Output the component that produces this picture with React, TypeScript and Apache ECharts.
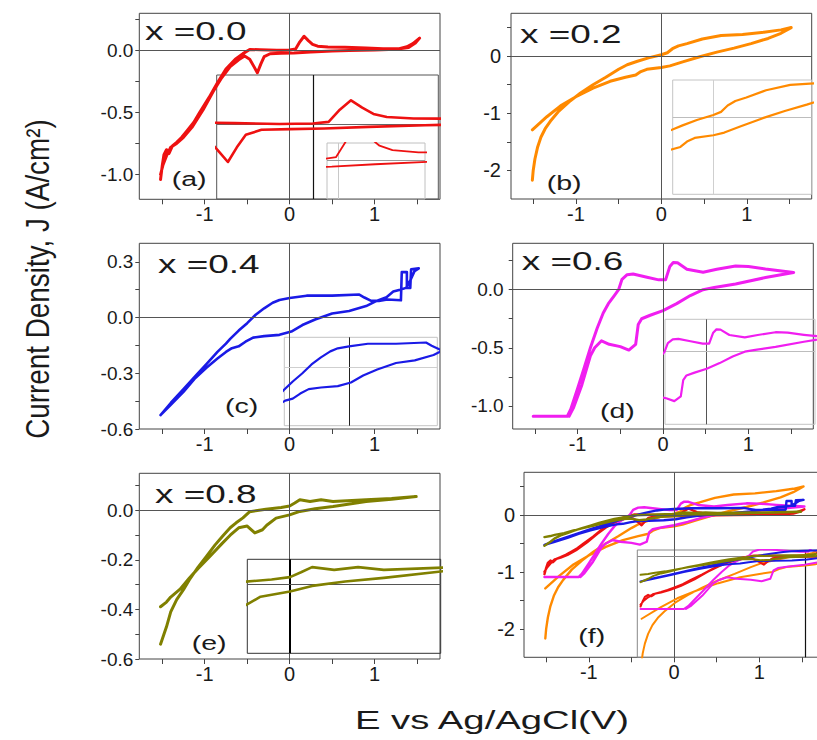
import { useEffect, useRef } from "react";
import * as echarts from "echarts";

type Pt = [number, number];

// Cyclic voltammograms: [E (V vs Ag/AgCl), J (A/cm²)], one full sweep each
const scanX00: Pt[] = [
  [-1.52, -1.04], [-1.5, -0.93], [-1.48, -0.84], [-1.45, -0.8], [-1.42, -0.83], [-1.38, -0.77],
  [-1.33, -0.74], [-1.27, -0.7], [-1.2, -0.64], [-1.13, -0.58], [-1.06, -0.5], [-0.95, -0.38],
  [-0.85, -0.26], [-0.75, -0.15], [-0.64, -0.07], [-0.55, -0.025], [-0.47, 0.008], [-0.35, 0.006],
  [-0.15, 0.002], [0.0, 0.004], [0.07, 0.012], [0.12, 0.07], [0.17, 0.115], [0.22, 0.08],
  [0.27, 0.05], [0.33, 0.035], [0.45, 0.028], [0.65, 0.027], [0.9, 0.02], [1.1, 0.015],
  [1.29, 0.015], [1.38, 0.03], [1.45, 0.055], [1.53, 0.1],
  [1.48, 0.06], [1.4, 0.025], [1.25, 0.01], [1.0, 0.005], [0.7, 0.0], [0.5, -0.004],
  [0.25, -0.012], [0.05, -0.02], [-0.1, -0.023], [-0.23, -0.026], [-0.3, -0.05], [-0.34, -0.11],
  [-0.38, -0.18], [-0.42, -0.13], [-0.47, -0.07], [-0.53, -0.045], [-0.6, -0.075], [-0.7, -0.13],
  [-0.8, -0.22], [-0.9, -0.33], [-1.02, -0.48], [-1.15, -0.62], [-1.25, -0.7], [-1.33, -0.75],
  [-1.4, -0.78], [-1.45, -0.85], [-1.49, -0.92], [-1.52, -1.0],
];

const scanX02: Pt[] = [
  [-1.51, -2.17], [-1.5, -2.0], [-1.48, -1.8], [-1.45, -1.6], [-1.41, -1.42], [-1.36, -1.27],
  [-1.3, -1.14], [-1.2, -0.96], [-1.08, -0.8], [-0.95, -0.65], [-0.8, -0.5], [-0.65, -0.37],
  [-0.5, -0.23], [-0.4, -0.15], [-0.28, -0.09], [-0.15, -0.03], [0.0, 0.025], [0.07, 0.06],
  [0.13, 0.13], [0.2, 0.18], [0.3, 0.22], [0.48, 0.3], [0.7, 0.36], [0.95, 0.38], [1.2, 0.42],
  [1.4, 0.46], [1.52, 0.5],
  [1.4, 0.4], [1.25, 0.31], [1.05, 0.22], [0.85, 0.14], [0.65, 0.07], [0.45, -0.01],
  [0.25, -0.1], [0.1, -0.17], [0.0, -0.2], [-0.17, -0.23], [-0.24, -0.27], [-0.3, -0.33],
  [-0.42, -0.37], [-0.6, -0.44], [-0.8, -0.56], [-1.0, -0.71], [-1.18, -0.87], [-1.34, -1.06],
  [-1.51, -1.29],
];

const scanX04: Pt[] = [
  [-1.52, -0.525], [-1.4, -0.46], [-1.25, -0.385], [-1.1, -0.31], [-0.98, -0.25], [-0.85, -0.185],
  [-0.75, -0.14], [-0.7, -0.115], [-0.6, -0.07], [-0.5, -0.03], [-0.4, 0.015], [-0.3, 0.05],
  [-0.2, 0.08], [-0.12, 0.095], [0.0, 0.105], [0.2, 0.118], [0.5, 0.118], [0.82, 0.124],
  [0.88, 0.108], [0.96, 0.09], [1.05, 0.09], [1.15, 0.097], [1.31, 0.093], [1.32, 0.245],
  [1.38, 0.245], [1.38, 0.16], [1.42, 0.16], [1.43, 0.26], [1.52, 0.265],
  [1.47, 0.25], [1.42, 0.2], [1.37, 0.16], [1.3, 0.15], [1.22, 0.14], [1.14, 0.11], [1.0, 0.085],
  [0.9, 0.062], [0.7, 0.035], [0.5, 0.022], [0.3, -0.01], [0.15, -0.04], [0.02, -0.075],
  [-0.12, -0.093], [-0.3, -0.1], [-0.43, -0.108], [-0.52, -0.13], [-0.6, -0.155], [-0.68, -0.165],
  [-0.75, -0.185], [-0.85, -0.22], [-0.98, -0.27], [-1.12, -0.33], [-1.25, -0.4], [-1.4, -0.47],
  [-1.52, -0.525],
];

const scanX06: Pt[] = [
  [-1.52, -1.09], [-1.12, -1.09], [-1.08, -1.03], [-1.0, -0.85], [-0.93, -0.69], [-0.85, -0.5],
  [-0.77, -0.33], [-0.7, -0.2], [-0.64, -0.12], [-0.57, -0.05], [-0.52, 0.0], [-0.48, 0.09],
  [-0.42, 0.13], [-0.35, 0.135], [-0.2, 0.11], [-0.05, 0.085], [0.03, 0.085], [0.08, 0.2],
  [0.12, 0.235], [0.17, 0.232], [0.28, 0.176], [0.47, 0.15], [0.63, 0.176], [0.85, 0.205],
  [1.0, 0.2], [1.2, 0.178], [1.53, 0.148],
  [1.2, 0.105], [0.85, 0.05], [0.6, 0.02], [0.47, 0.0], [0.32, -0.05], [0.16, -0.12],
  [0.0, -0.18], [-0.15, -0.22], [-0.25, -0.25], [-0.29, -0.3], [-0.32, -0.47], [-0.4, -0.52],
  [-0.5, -0.49], [-0.63, -0.47], [-0.72, -0.44], [-0.8, -0.5], [-0.85, -0.57], [-0.95, -0.82],
  [-1.05, -1.02], [-1.1, -1.09],
];

const scanX08: Pt[] = [
  [-1.52, -0.54], [-1.48, -0.5], [-1.45, -0.47], [-1.4, -0.41], [-1.33, -0.36], [-1.25, -0.32],
  [-1.18, -0.28], [-1.08, -0.23], [-0.98, -0.186], [-0.88, -0.14], [-0.78, -0.1], [-0.7, -0.07],
  [-0.63, -0.05], [-0.55, -0.03], [-0.47, -0.005], [-0.28, 0.005], [-0.1, 0.012], [0.0, 0.018],
  [0.06, 0.03], [0.12, 0.043], [0.24, 0.036], [0.37, 0.043], [0.51, 0.036], [0.9, 0.043],
  [1.2, 0.048], [1.49, 0.056],
  [1.2, 0.045], [0.9, 0.036], [0.51, 0.016], [0.3, 0.007], [0.12, -0.004], [0.0, -0.018],
  [-0.16, -0.031], [-0.27, -0.06], [-0.32, -0.078], [-0.41, -0.091], [-0.5, -0.063],
  [-0.6, -0.07], [-0.7, -0.1], [-0.8, -0.135], [-0.94, -0.186], [-1.08, -0.235], [-1.18, -0.273],
  [-1.29, -0.318], [-1.4, -0.35], [-1.45, -0.37], [-1.52, -0.389],
];

const scans: Pt[][] = [scanX00, scanX02, scanX04, scanX06, scanX08];
const compositions = ["x =0.0", "x =0.2", "x =0.4", "x =0.6", "x =0.8"];
const panelLetters = ["(a)", "(b)", "(c)", "(d)", "(e)", "(f)"];
const curveColors = ["#ee1111", "#ff8a00", "#1a1ae6", "#f01ef0", "#808000"];

// Axis ticks and labels
const xLabelValues = [-1, 0, 1];
const xTickValues = [-1.5, -1, -0.5, 0, 0.5, 1, 1.5];
const yLabelsA = [-1, -0.5, 0];
const yTicksA = [-1, -0.75, -0.5, -0.25, 0, 0.25];
const yLabelsB = [-2, -1, 0];
const yTicksB = [-2, -1.5, -1, -0.5, 0, 0.5];
const yLabelsC = [-0.6, -0.3, 0, 0.3];
const yTicksC = [-0.6, -0.45, -0.3, -0.15, 0, 0.15, 0.3];
const yLabelsD = [-1, -0.5, 0];
const yTicksD = [-1, -0.75, -0.5, -0.25, 0, 0.25];
const yLabelsE = [-0.6, -0.4, -0.2, 0];
const yTicksE = [-0.6, -0.5, -0.4, -0.3, -0.2, -0.1, 0, 0.1];

const FONT = "'Liberation Sans', Arial, Helvetica, sans-serif";
const INK = "#1a1a1a";

interface Box { left: number; top: number; width: number; height: number }

interface MainPanel {
  box: Box; x: [number, number]; y: [number, number];
  yLabels: number[]; yTicks: number[]; decimals: number; yFont: number; yMargin: number;
  curves: number[]; lw: number;
}

const mainPanels: MainPanel[] = [
  { box: { left: 139.3, top: 13.3, width: 300.7, height: 186 }, x: [-1.77, 1.77], y: [-1.2, 0.3],
    yLabels: yLabelsA, yTicks: yTicksA, decimals: 1, yFont: 19, yMargin: 6, curves: [0], lw: 3 },
  { box: { left: 511, top: 13.3, width: 300.7, height: 185.7 }, x: [-1.76, 1.76], y: [-2.5, 0.75],
    yLabels: yLabelsB, yTicks: yTicksB, decimals: 0, yFont: 20, yMargin: 10, curves: [1], lw: 3 },
  { box: { left: 139.3, top: 243.3, width: 300.7, height: 185.7 }, x: [-1.77, 1.77], y: [-0.6, 0.4],
    yLabels: yLabelsC, yTicks: yTicksC, decimals: 1, yFont: 19, yMargin: 6, curves: [2], lw: 2.6 },
  { box: { left: 512.7, top: 243.3, width: 300.6, height: 185.7 }, x: [-1.76, 1.76], y: [-1.2, 0.4],
    yLabels: yLabelsD, yTicks: yTicksD, decimals: 1, yFont: 19, yMargin: 9, curves: [3], lw: 3 },
  { box: { left: 139.3, top: 473.3, width: 300.7, height: 185.7 }, x: [-1.77, 1.77], y: [-0.6, 0.15],
    yLabels: yLabelsE, yTicks: yTicksE, decimals: 1, yFont: 19, yMargin: 6, curves: [4], lw: 3 },
  { box: { left: 524, top: 472.3, width: 300, height: 185 }, x: [-1.76, 1.76], y: [-2.5, 0.75],
    yLabels: yLabelsB, yTicks: yTicksB, decimals: 0, yFont: 20, yMargin: 9, curves: [1, 0, 3, 2, 4], lw: 2.4 },
];

interface Inset {
  box: Box; x: [number, number]; y: [number, number]; border: string;
  vAt: number; vColor: string; vWidth: number; hColor: string; curves: number[]; lw: number;
}

const insets: Inset[] = [
  { box: { left: 216.7, top: 75, width: 221.6, height: 124 }, x: [-0.43, 0.56], y: [-0.357, 0.236],
    border: "#555", vAt: 0, vColor: "#111", vWidth: 1.2, hColor: "#666", curves: [0], lw: 2.6 },
  { box: { left: 327, top: 143, width: 98, height: 56 }, x: [0.028, 0.48], y: [-0.128, 0.059],
    border: "#c0c0c0", vAt: 0.08, vColor: "#c8c8c8", vWidth: 1, hColor: "#999", curves: [0], lw: 1.8 },
  { box: { left: 672.7, top: 80, width: 139, height: 114.3 }, x: [-0.37, 0.895], y: [-0.856, 0.414],
    border: "#c4c4c4", vAt: 0, vColor: "#cfcfcf", vWidth: 1, hColor: "#bdbdbd", curves: [1], lw: 2.2 },
  { box: { left: 284.3, top: 337.3, width: 153, height: 88.4 }, x: [-0.69, 0.94], y: [-0.29, 0.15],
    border: "#c4c4c4", vAt: 0, vColor: "#222", vWidth: 1, hColor: "#cfcfcf", curves: [2], lw: 2.2 },
  { box: { left: 665, top: 319.3, width: 150, height: 105 }, x: [-0.515, 1.337], y: [-0.764, 0.341],
    border: "#c4c4c4", vAt: 0, vColor: "#555", vWidth: 1, hColor: "#bdbdbd", curves: [3], lw: 2.2 },
  { box: { left: 247.3, top: 559.3, width: 193.4, height: 94 }, x: [-0.232, 0.819], y: [-0.1725, 0.0625],
    border: "#333", vAt: 0, vColor: "#000", vWidth: 2, hColor: "#555", curves: [4], lw: 2.6 },
  { box: { left: 637.3, top: 550, width: 200, height: 107.3 }, x: [-1.55, 0.3], y: [-2.08, 0.12],
    border: "#888", vAt: 0, vColor: "#111", vWidth: 1.2, hColor: "#888", curves: [1, 0, 3, 2, 4], lw: 2 },
];

const compositionPos: [number, number][] = [[145, 31], [520, 34], [158, 264], [521.7, 261], [155, 494]];
const letterPos: [number, number][] = [[171.7, 178], [546.7, 182], [225, 405], [600, 410], [191.7, 642], [578.3, 635]];

function buildOption() {
  const grid: any[] = [];
  const xAxis: any[] = [];
  const yAxis: any[] = [];
  const series: any[] = [];

  const addGrid = (box: Box, border: string) => {
    grid.push({
      ...box, show: true, borderColor: border, borderWidth: 1, backgroundColor: "transparent",
      containLabel: false, outerBoundsMode: "none",
    });
    return grid.length - 1;
  };

  const addCurves = (gi: number, curves: number[], lw: number, zBase: number) => {
    curves.forEach((ci, k) => {
      series.push({
        type: "line", name: compositions[ci], xAxisIndex: gi, yAxisIndex: gi, data: scans[ci],
        showSymbol: false, symbol: "none", silent: true, clip: true, z: zBase + k * 0.01,
        lineStyle: { color: curveColors[ci], width: lw, join: "round", cap: "round" },
        itemStyle: { color: curveColors[ci] },
      });
    });
  };

  const addZeroLines = (gi: number, vAt: number, vColor: string, vWidth: number, hColor: string, z: number) => {
    series.push({
      type: "line", xAxisIndex: gi, yAxisIndex: gi, data: [], silent: true, z,
      markLine: {
        silent: true, symbol: ["none", "none"], label: { show: false }, animation: false,
        emphasis: { disabled: true },
        data: [
          { xAxis: vAt, lineStyle: { color: vColor, width: vWidth, type: "solid" } },
          { yAxis: 0, lineStyle: { color: hColor, width: 1, type: "solid" } },
        ],
      },
    });
  };

  mainPanels.forEach((p) => {
    const gi = addGrid(p.box, "#444");
    xAxis.push({
      gridIndex: gi, type: "value", min: p.x[0], max: p.x[1],
      axisLine: { show: false, onZero: false }, splitLine: { show: false },
      axisTick: { show: true, customValues: xTickValues, length: 5, inside: false, lineStyle: { color: "#444" } },
      axisLabel: {
        customValues: xLabelValues, fontSize: 20, color: INK, fontFamily: FONT, margin: 5,
        formatter: (v: number) => String(v),
      },
    });
    yAxis.push({
      gridIndex: gi, type: "value", min: p.y[0], max: p.y[1],
      axisLine: { show: false, onZero: false }, splitLine: { show: false },
      axisTick: { show: true, customValues: p.yTicks, length: 4, inside: false, lineStyle: { color: "#444" } },
      axisLabel: {
        customValues: p.yLabels, fontSize: p.yFont, color: INK, fontFamily: FONT, margin: p.yMargin,
        formatter: (v: number) => (p.decimals ? v.toFixed(p.decimals) : String(Math.round(v))),
      },
    });
    addZeroLines(gi, 0, "#555", 1, "#555", 1);
    addCurves(gi, p.curves, p.lw, 3);
  });

  insets.forEach((s) => {
    const gi = addGrid(s.box, s.border);
    xAxis.push({ gridIndex: gi, type: "value", min: s.x[0], max: s.x[1], show: false });
    yAxis.push({ gridIndex: gi, type: "value", min: s.y[0], max: s.y[1], show: false });
    addZeroLines(gi, s.vAt, s.vColor, s.vWidth, s.hColor, 4);
    addCurves(gi, s.curves, s.lw, 5);
  });

  const graphic: any[] = [];
  compositions.forEach((t, i) => {
    graphic.push({
      type: "text", x: compositionPos[i][0], y: compositionPos[i][1], scaleX: 1.42, z: 20,
      style: { text: t, fontSize: 26, fontFamily: FONT, fill: INK, align: "left", verticalAlign: "middle" },
    });
  });
  panelLetters.forEach((t, i) => {
    graphic.push({
      type: "text", x: letterPos[i][0], y: letterPos[i][1], scaleX: 1.36, z: 20,
      style: { text: t, fontSize: 21, fontFamily: FONT, fill: INK, align: "left", verticalAlign: "middle" },
    });
  });
  graphic.push({
    type: "text", x: 38, y: 279, rotation: Math.PI / 2, scaleX: 1.07, scaleY: 1.25, z: 20,
    style: {
      text: "Current Density, J (A/cm²)", fontSize: 26, fontFamily: FONT, fill: INK,
      align: "center", verticalAlign: "middle",
    },
  });
  graphic.push({
    type: "text", x: 355, y: 720.5, scaleX: 1.53, z: 20,
    style: { text: "E vs Ag/AgCl(V)", fontSize: 25, fontFamily: FONT, fill: INK, align: "left", verticalAlign: "middle" },
  });

  return {
    animation: false,
    backgroundColor: "#ffffff",
    textStyle: { fontFamily: FONT },
    grid, xAxis, yAxis, series, graphic,
  };
}

export default function App() {
  const ref = useRef<HTMLDivElement>(null);
  useEffect(() => {
    if (!ref.current) return;
    const chart = echarts.init(ref.current, undefined, { renderer: "svg" });
    chart.setOption(buildOption());
    return () => chart.dispose();
  }, []);
  return (
    <div
      ref={ref}
      style={{ position: "absolute", left: 0, top: 0, width: 817, height: 740, background: "#fff" }}
    />
  );
}
